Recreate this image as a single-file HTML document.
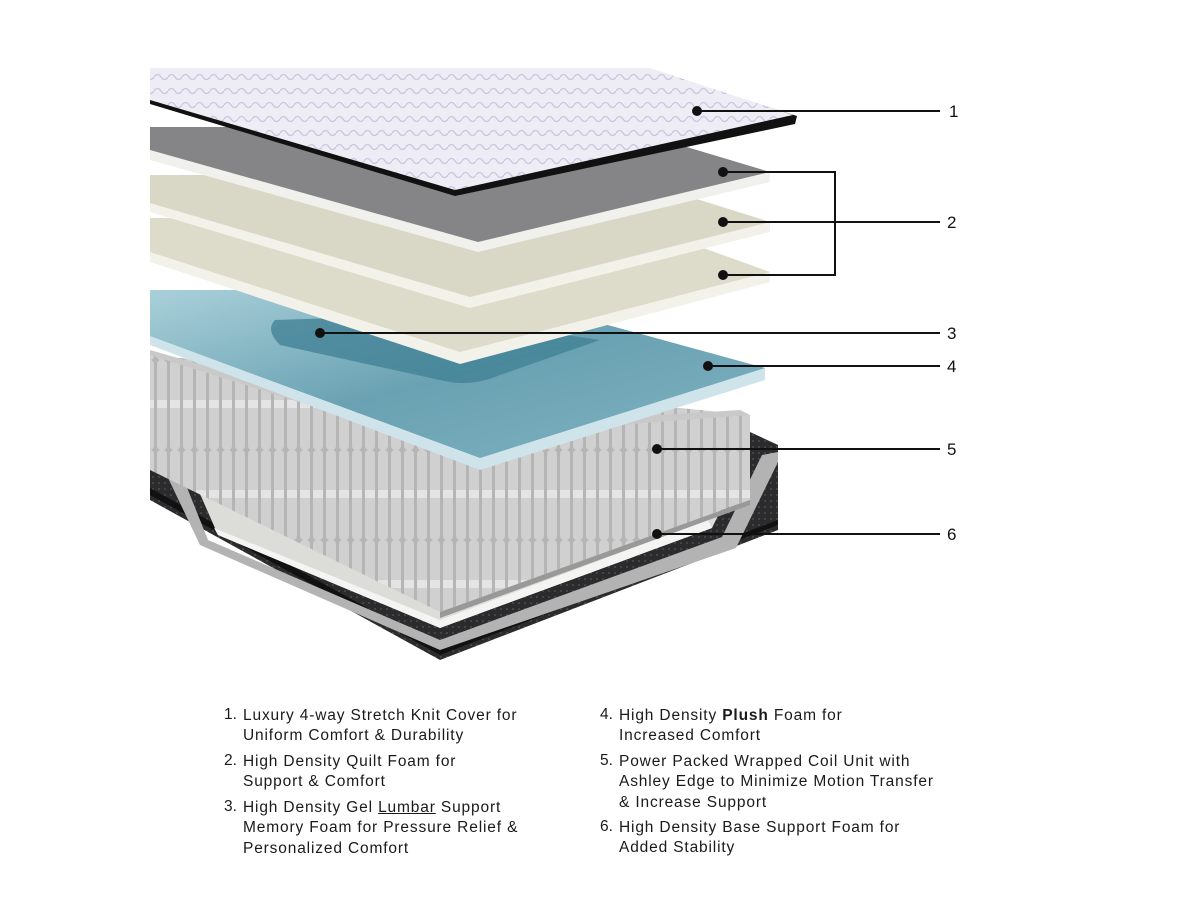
<!DOCTYPE html>
<html><head><meta charset="utf-8"><style>
html,body{margin:0;padding:0;background:#fff;}
body{width:1200px;height:900px;position:relative;overflow:hidden;font-family:"Liberation Sans",sans-serif;}
svg{position:absolute;left:0;top:0;}
.t{position:absolute;font-size:15.5px;letter-spacing:0.85px;color:#1a1a1a;line-height:20.3px;white-space:nowrap;}
.n{position:absolute;font-size:15.5px;color:#1a1a1a;}
</style></head><body>
<svg width="1200" height="900" viewBox="0 0 1200 900">
<defs>
<pattern id="dots" width="6" height="6" patternUnits="userSpaceOnUse"><rect width="6" height="6" fill="#2b2b2d"/><circle cx="3" cy="3" r="0.9" fill="#555"/></pattern>
<pattern id="coil" width="13" height="90" patternUnits="userSpaceOnUse"><rect width="13" height="90" fill="#b5b5b5"/><rect x="1" y="0" width="10" height="90" rx="4" fill="#d0d0d0"/><rect x="1" y="40" width="10" height="8" fill="#e4e4e4"/></pattern>
<pattern id="knit" width="14" height="14" patternUnits="userSpaceOnUse"><rect width="14" height="14" fill="#eeedf5"/><path d="M0,7 Q3.5,2 7,7 T14,7" stroke="#c9c6de" stroke-width="1.3" fill="none"/></pattern>
<linearGradient id="blue" x1="0" y1="0" x2="1" y2="1"><stop offset="0" stop-color="#a9d0d9"/><stop offset="0.5" stop-color="#6aa2b3"/><stop offset="1" stop-color="#7fb2c0"/></linearGradient>
</defs>
<!-- base shell -->
<polygon points="150,395 150,500 440,660 778,530 778,445 750,432" fill="url(#dots)"/>
<polygon points="150,495 440,655 778,525 778,520 440,648 150,488" fill="#111"/>
<!-- gray rim + foam -->
<polygon points="160,420 208,540 440,640 722,537 762,455 778,452 778,462 736,548 440,650 200,545 150,440 150,420" fill="#b3b3b3"/>
<polygon points="172,430 218,535 440,628 712,528 745,460 660,455 165,430" fill="#dcdcd8"/>
<polygon points="214,528 440,620 708,520 712,528 440,628 218,535" fill="#f4f4f2"/>
<!-- coils -->
<polygon points="150,355 300,370 750,415 750,500 440,612 150,470" fill="url(#coil)"/>
<polygon points="150,355 420,440 750,415 740,410 430,430 150,350" fill="#c9c9c9"/>
<polygon points="440,612 750,500 750,505 440,618" fill="#999"/>
<!-- blue layer -->
<polygon points="150,290 480,290 765,368 765,380 480,470 150,345" fill="#cfe4ea"/>
<polygon points="150,290 480,290 765,368 480,458 150,336" fill="url(#blue)"/>
<path d="M275,320 Q265,330 280,345 L440,380 Q470,388 500,375 L600,340 L430,315 Z" fill="#3f7f93" opacity="0.75"/>
<!-- cream 2 -->
<polygon points="150,218 620,218 770,272 770,282 460,364 150,262" fill="#f3f2ea"/>
<polygon points="150,218 620,218 770,272 460,352 150,252" fill="#dddbc9"/>
<!-- cream 1 -->
<polygon points="150,175 620,175 770,222 770,232 470,308 150,212" fill="#f3f2ea"/>
<polygon points="150,175 620,175 770,222 470,297 150,203" fill="#d9d7c5"/>
<!-- gray -->
<polygon points="150,127 620,127 770,172 770,182 478,252 150,160" fill="#f0f0ec"/>
<polygon points="150,127 620,127 770,172 478,242 150,150" fill="#858587"/>
<!-- cover -->
<polygon points="150,70 650,70 797,116 795,124 455,196 150,104" fill="#111"/>
<polygon points="150,68 650,68 793,115 455,190 150,100" fill="url(#knit)"/>
<!-- leader lines -->
<g stroke="#111" stroke-width="2" fill="none">
<line x1="697" y1="111" x2="940" y2="111"/>
<polyline points="723,172 835,172 835,275 723,275"/>
<line x1="723" y1="222" x2="835" y2="222"/>
<line x1="835" y1="222" x2="940" y2="222"/>
<line x1="320" y1="333" x2="940" y2="333"/>
<line x1="708" y1="366" x2="940" y2="366"/>
<line x1="657" y1="449" x2="940" y2="449"/>
<line x1="657" y1="534" x2="940" y2="534"/>
</g>
<g fill="#111">
<circle cx="697" cy="111" r="5"/><circle cx="723" cy="172" r="5"/><circle cx="723" cy="222" r="5"/><circle cx="723" cy="275" r="5"/>
<circle cx="320" cy="333" r="5"/><circle cx="708" cy="366" r="5"/><circle cx="657" cy="449" r="5"/><circle cx="657" cy="534" r="5"/>
</g>
<g font-family="Liberation Sans, sans-serif" font-size="17" fill="#111">
<text x="949" y="117">1</text><text x="947" y="228">2</text><text x="947" y="339">3</text>
<text x="947" y="372">4</text><text x="947" y="455">5</text><text x="947" y="540">6</text>
</g>
</svg>
<div class="n" style="left:224px;top:706px">1.</div>
<div class="t" style="left:243px;top:706px">Luxury 4-way Stretch Knit Cover for<br>Uniform Comfort &amp; Durability</div>
<div class="n" style="left:224px;top:752px">2.</div>
<div class="t" style="left:243px;top:752px">High Density Quilt Foam for<br>Support &amp; Comfort</div>
<div class="n" style="left:224px;top:798px">3.</div>
<div class="t" style="left:243px;top:798px">High Density Gel <u>Lumbar</u> Support<br>Memory Foam for Pressure Relief &amp;<br>Personalized Comfort</div>
<div class="n" style="left:600px;top:706px">4.</div>
<div class="t" style="left:619px;top:706px">High Density <b>Plush</b> Foam for<br>Increased Comfort</div>
<div class="n" style="left:600px;top:752px">5.</div>
<div class="t" style="left:619px;top:752px">Power Packed Wrapped Coil Unit with<br>Ashley Edge to Minimize Motion Transfer<br>&amp; Increase Support</div>
<div class="n" style="left:600px;top:818px">6.</div>
<div class="t" style="left:619px;top:818px">High Density Base Support Foam for<br>Added Stability</div>
</body></html>
